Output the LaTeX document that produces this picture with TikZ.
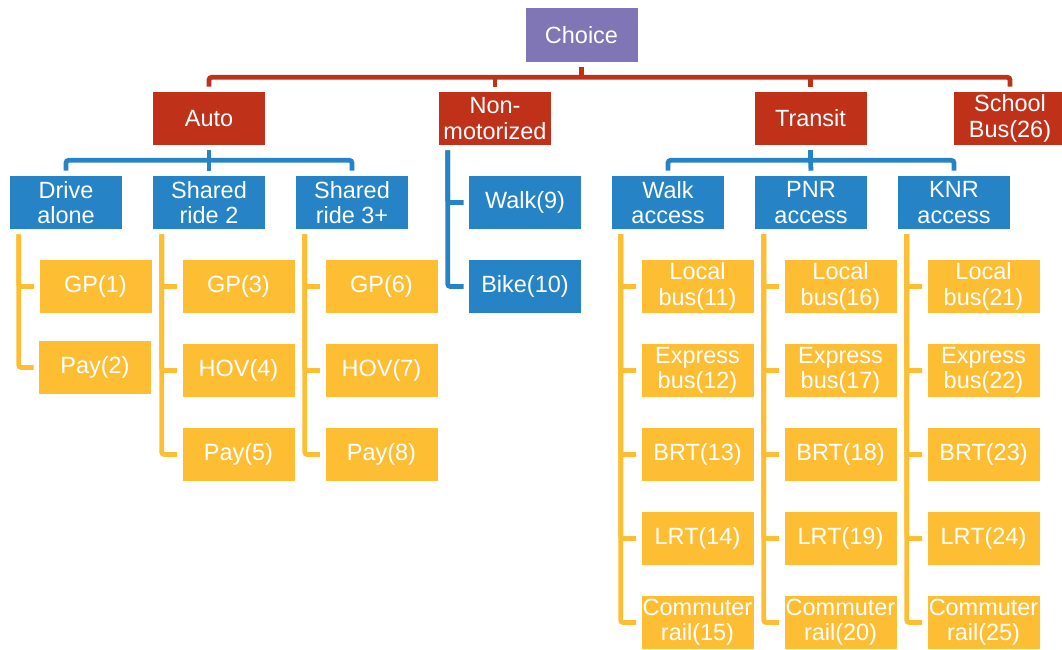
\documentclass[tikz,border=0pt]{standalone}
\usepackage{fontspec}
\setmainfont{Liberation Sans}
\usepackage{tikz}
\usetikzlibrary{positioning,calc}
\definecolor{choicepurple}{RGB}{128,118,182}
\definecolor{modered}{RGB}{192,49,26}
\definecolor{subblue}{RGB}{38,132,198}
\definecolor{leafyellow}{RGB}{253,190,52}
\begin{document}
\begin{tikzpicture}[x=0.75pt,y=-0.75pt,
    box/.style={fill=#1,text=white,font=\fontsize{17.6}{19}\selectfont, align=center, inner sep=0pt, outer sep=4pt, minimum width=84pt, minimum height=39.75pt},
    choicebox/.style={box=choicepurple, minimum height=40.5pt},
    modebox/.style={box=modered},
    subbox/.style={box=subblue},
    leafbox/.style={box=leafyellow},
    redline/.style={draw=modered, line width=3.6pt, rounded corners=2pt},
    blueline/.style={draw=subblue, line width=3.6pt, rounded corners=2pt},
    yline/.style={draw=leafyellow, line width=3.6pt, rounded corners=2pt}
    ]
\useasboundingbox (0,0) rectangle (1062,649);

    % top
    \node[choicebox] (choice)   at (581.5,35)   {Choice};
    % main modes
    \node[modebox] (auto)       at (209,118.5)  {Auto};
    \node[modebox] (nonmot)     at (495,118.5)  {Non-\\motorized};
    \node[modebox] (transit)    at (810.5,118.5) {Transit};
    \node[modebox] (school)     at (1010,118.5) {School\\Bus(26)};
    % sub modes
    \node[subbox] (drivealone)  at (66,202.5)   {Drive\\alone};
    \node[subbox] (sharedtwo)   at (209,202.5)  {Shared\\ride 2};
    \node[subbox] (sharedthree) at (352,202.5)  {Shared\\ride 3+};
    \node[subbox] (walk)        at (525,202.5)  {Walk(9)};
    \node[subbox] (bike)        at (525,286.5)  {Bike(10)};
    \node[subbox] (walkacc)     at (668,202.5)  {Walk\\access};
    \node[subbox] (pnracc)      at (811,202.5)  {PNR\\access};
    \node[subbox] (knracc)      at (954,202.5)  {KNR\\access};
    % auto leaves
    \node[leafbox] (gpone)      at (95.5,286.5)  {GP(1)};
    \node[leafbox] (payone)     at (95,367.5)    {Pay(2)};
    \node[leafbox] (gptwo)      at (238.5,286.5) {GP(3)};
    \node[leafbox] (hovtwo)     at (238.5,370.5) {HOV(4)};
    \node[leafbox] (paytwo)     at (238.5,454.5) {Pay(5)};
    \node[leafbox] (gpthree)    at (381.5,286.5) {GP(6)};
    \node[leafbox] (hovthree)   at (381.5,370.5) {HOV(7)};
    \node[leafbox] (paythree)   at (381.5,454.5) {Pay(8)};
    % transit leaves
    \node[leafbox] (localw)     at (697.5,286.5) {Local\\bus(11)};
    \node[leafbox] (expressw)   at (697.5,370.5) {Express\\bus(12)};
    \node[leafbox] (brtw)       at (697.5,454.5) {BRT(13)};
    \node[leafbox] (lrtw)       at (697.5,538.5) {LRT(14)};
    \node[leafbox] (railw)      at (697.5,622.5) {Commuter\\rail(15)};
    \node[leafbox] (localp)     at (840.5,286.5) {Local\\bus(16)};
    \node[leafbox] (expressp)   at (840.5,370.5) {Express\\bus(17)};
    \node[leafbox] (brtp)       at (840.5,454.5) {BRT(18)};
    \node[leafbox] (lrtp)       at (840.5,538.5) {LRT(19)};
    \node[leafbox] (railp)      at (840.5,622.5) {Commuter\\rail(20)};
    \node[leafbox] (localk)     at (983.5,286.5) {Local\\bus(21)};
    \node[leafbox] (expressk)   at (983.5,370.5) {Express\\bus(22)};
    \node[leafbox] (brtk)       at (983.5,454.5) {BRT(23)};
    \node[leafbox] (lrtk)       at (983.5,538.5) {LRT(24)};
    \node[leafbox] (railk)      at (983.5,622.5) {Commuter\\rail(25)};

    % red bus
    \draw[redline] (choice.south) -- ++(0,10) coordinate (rbus);
    \draw[redline] (auto.north) |- (rbus) -| (school.north);
    \draw[redline] (nonmot.north) -- (nonmot.north |- rbus);
    \draw[redline] (transit.north) -- (transit.north |- rbus);
    % blue buses
    \draw[blueline] (auto.south) -- ++(0,10) coordinate (abus);
    \draw[blueline] (drivealone.north) |- (abus) -| (sharedthree.north);
    \draw[blueline] (sharedtwo.north) -- (abus);
    \draw[blueline] (transit.south) -- ++(0,10) coordinate (tbus);
    \draw[blueline] (walkacc.north) |- (tbus) -| (knracc.north);
    \draw[blueline] (pnracc.north) -- (tbus);
    \draw[blueline] ($(nonmot.south west)+(14,0)$) |- (walk.west);
    \draw[blueline] ($(nonmot.south west)+(14,0)$) |- (bike.west);
    % yellow trees
    \draw[yline] ($(drivealone.south west)+(14,0)$) |- (gpone.west);
    \draw[yline] ($(drivealone.south west)+(14,0)$) |- (payone.west);
    \draw[yline] ($(sharedtwo.south west)+(14,0)$) |- (gptwo.west);
    \draw[yline] ($(sharedtwo.south west)+(14,0)$) |- (hovtwo.west);
    \draw[yline] ($(sharedtwo.south west)+(14,0)$) |- (paytwo.west);
    \draw[yline] ($(sharedthree.south west)+(14,0)$) |- (gpthree.west);
    \draw[yline] ($(sharedthree.south west)+(14,0)$) |- (hovthree.west);
    \draw[yline] ($(sharedthree.south west)+(14,0)$) |- (paythree.west);
    \draw[yline] ($(walkacc.south west)+(14,0)$) |- (localw.west);
    \draw[yline] ($(walkacc.south west)+(14,0)$) |- (expressw.west);
    \draw[yline] ($(walkacc.south west)+(14,0)$) |- (brtw.west);
    \draw[yline] ($(walkacc.south west)+(14,0)$) |- (lrtw.west);
    \draw[yline] ($(walkacc.south west)+(14,0)$) |- (railw.west);
    \draw[yline] ($(pnracc.south west)+(14,0)$) |- (localp.west);
    \draw[yline] ($(pnracc.south west)+(14,0)$) |- (expressp.west);
    \draw[yline] ($(pnracc.south west)+(14,0)$) |- (brtp.west);
    \draw[yline] ($(pnracc.south west)+(14,0)$) |- (lrtp.west);
    \draw[yline] ($(pnracc.south west)+(14,0)$) |- (railp.west);
    \draw[yline] ($(knracc.south west)+(14,0)$) |- (localk.west);
    \draw[yline] ($(knracc.south west)+(14,0)$) |- (expressk.west);
    \draw[yline] ($(knracc.south west)+(14,0)$) |- (brtk.west);
    \draw[yline] ($(knracc.south west)+(14,0)$) |- (lrtk.west);
    \draw[yline] ($(knracc.south west)+(14,0)$) |- (railk.west);
\end{tikzpicture}
\end{document}
